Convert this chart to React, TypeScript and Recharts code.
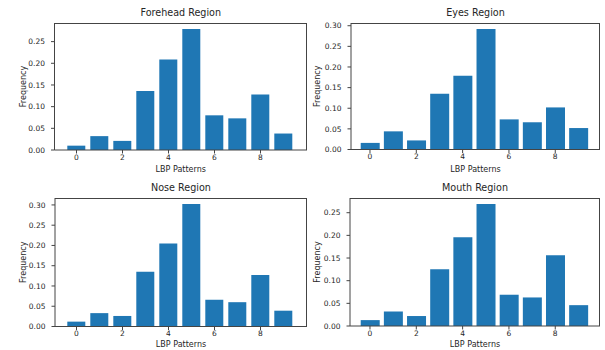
import { BarChart, Bar, XAxis, YAxis } from "recharts";

const patterns = ["0", "1", "2", "3", "4", "5", "6", "7", "8", "9"];

const forehead = [0.010, 0.032, 0.021, 0.136, 0.209, 0.279, 0.080, 0.073, 0.128, 0.038];
const eyes = [0.016, 0.044, 0.022, 0.135, 0.179, 0.292, 0.073, 0.066, 0.102, 0.052];
const nose = [0.012, 0.033, 0.026, 0.135, 0.205, 0.302, 0.066, 0.060, 0.127, 0.039];
const mouth = [0.013, 0.032, 0.022, 0.125, 0.196, 0.269, 0.069, 0.063, 0.156, 0.046];

const titles = ["Forehead Region", "Eyes Region", "Nose Region", "Mouth Region"];

const ticks25 = [0, 0.05, 0.1, 0.15, 0.2, 0.25];
const ticks30 = [0, 0.05, 0.1, 0.15, 0.2, 0.25, 0.3];

const BLUE = "#1f77b4";
const INK = "#262626";
const FONT = "'DejaVu Sans', sans-serif";

type PanelProps = {
  title: string;
  values: number[];
  ticks: number[];
  left: number;
  top: number;
  width: number;
  yAxisWidth: number;
  marginRight: number;
  marginTop: number;
  xAxisHeight: number;
  padLeft: number;
  padRight: number;
  labelOffset: number;
};

function Panel(p: PanelProps) {
  const data = patterns.map((name, i) => ({ name, value: p.values[i] }));
  const ymax = Math.max(...p.values) * 1.05;
  const plotLeft = p.yAxisWidth;
  const plotRight = p.width - p.marginRight;
  const plotBottom = 175 - p.xAxisHeight;
  return (
    <div style={{ position: "absolute", left: p.left, top: p.top, width: p.width, height: 175 }}>
      <div
        style={{
          position: "absolute",
          left: plotLeft,
          width: plotRight - plotLeft,
          top: 7,
          textAlign: "center",
          fontSize: 9.6,
          lineHeight: "12px",
          color: INK,
          fontFamily: FONT,
        }}
      >
        {p.title}
      </div>
      <BarChart
        width={p.width}
        height={175}
        data={data}
        margin={{ top: p.marginTop, right: p.marginRight, bottom: 0, left: 0 }}
        barCategoryGap="10%"
        style={{ fontFamily: FONT }}
      >
        <XAxis
          dataKey="name"
          interval={1}
          height={p.xAxisHeight}
          padding={{ left: p.padLeft, right: p.padRight }}
          tick={{ fontSize: 7.5, fill: INK }}
          tickSize={3.5}
          tickMargin={1}
          axisLine={{ stroke: "#444" }}
          tickLine={{ stroke: "#444" }}
          label={{ value: "LBP Patterns", position: "insideBottom", offset: 3, fontSize: 8, fill: INK }}
        />
        <YAxis
          width={p.yAxisWidth}
          domain={[0, ymax]}
          ticks={p.ticks}
          tickFormatter={(v: number) => v.toFixed(2)}
          tick={{ fontSize: 7.5, fill: INK }}
          tickSize={3.5}
          tickMargin={6}
          axisLine={{ stroke: "#444" }}
          tickLine={{ stroke: "#444" }}
          label={{
            value: "Frequency",
            angle: -90,
            position: "insideLeft",
            offset: p.labelOffset,
            fontSize: 8,
            fill: INK,
            style: { textAnchor: "middle" },
          }}
        />
        <Bar dataKey="value" fill={BLUE} isAnimationActive={false} />
      </BarChart>
      {/* top and right spines */}
      <div
        style={{
          position: "absolute",
          left: plotLeft,
          top: p.marginTop,
          width: plotRight - plotLeft,
          height: plotBottom - p.marginTop,
          borderTop: "1px solid #444",
          borderRight: "1px solid #444",
          boxSizing: "border-box",
          pointerEvents: "none",
        }}
      />
    </div>
  );
}

export default function App() {
  return (
    <div style={{ position: "relative", width: 605, height: 350, background: "#fff", overflow: "hidden" }}>
      <style>{"body{margin:0}"}</style>
      <Panel title={titles[0]} values={forehead} ticks={ticks25} left={0} top={0} width={310}
        yAxisWidth={54.5} marginRight={3} marginTop={23} xAxisHeight={25} padLeft={10.5} padRight={12} labelOffset={23} />
      <Panel title={titles[1]} values={eyes} ticks={ticks30} left={300} top={0} width={305}
        yAxisWidth={51} marginRight={5} marginTop={23} xAxisHeight={25.5} padLeft={7.4} padRight={10} labelOffset={17} />
      <Panel title={titles[2]} values={nose} ticks={ticks30} left={0} top={175} width={310}
        yAxisWidth={55} marginRight={3} marginTop={23} xAxisHeight={23.5} padLeft={10} padRight={12} labelOffset={23} />
      <Panel title={titles[3]} values={mouth} ticks={ticks25} left={300} top={175} width={305}
        yAxisWidth={50} marginRight={5} marginTop={23} xAxisHeight={24} padLeft={8.4} padRight={10} labelOffset={17} />
    </div>
  );
}
